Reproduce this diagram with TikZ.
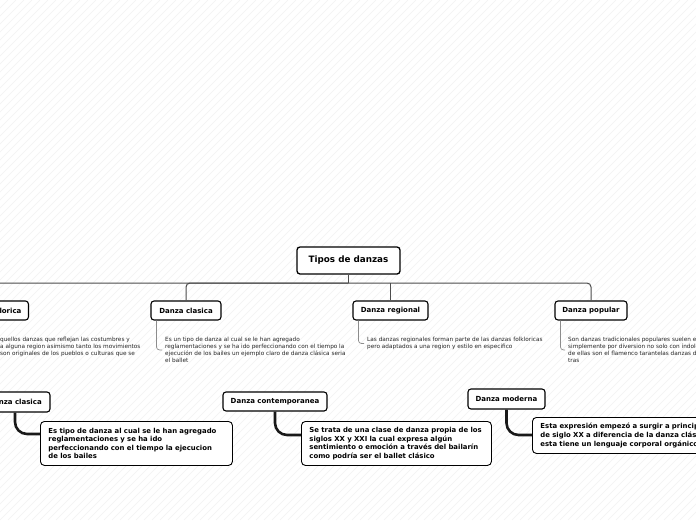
\documentclass[tikz,border=0pt]{standalone}
\usepackage{fontspec}
\setmainfont{DejaVu Sans}
\usetikzlibrary{calc}
\begin{document}
\begin{tikzpicture}[x=1pt,y=-1pt,
  topic/.style={draw=black, line width=1.1pt, rounded corners=3pt, fill=white,
    font=\bfseries\fontsize{7}{8}\selectfont, minimum height=19pt, inner xsep=7pt, inner ysep=0pt},
  bus/.style={draw=black!70, line width=1pt},
  bracket/.style={draw=black!45, line width=0.7pt, rounded corners=3pt},
  desc/.style={font=\fontsize{5.75}{7}\selectfont, align=left, inner sep=0pt, text=black!85, anchor=north west},
  note/.style={draw=black, line width=0.9pt, rounded corners=4pt, fill=white,
    font=\bfseries\fontsize{6.9}{8.6}\selectfont, align=left, anchor=north west, inner xsep=8pt, inner ysep=0pt},
  conn/.style={draw=black!90, line width=2.6pt, rounded corners=12pt}]
\useasboundingbox (0,0) rectangle (696,520);
\clip (0,0) rectangle (696,520);
\fill[white] (0,0) rectangle (696,520);
\foreach \i in {-520,-512,...,700} \draw[black!5, line width=0.4pt] (\i,520) -- (\i+520,0);

% root and first level
\node[topic, minimum width=103pt, minimum height=27pt, line width=1.3pt,
  font=\bfseries\fontsize{8.8}{10}\selectfont] (root) at (348.5,260.5) {Tipos de danzas};
\node[topic, minimum width=70pt] (clasica) at (186,310.5) {Danza clasica};
\node[topic, minimum width=75pt] (regional) at (390.5,310.5) {Danza regional};
\node[topic, minimum width=72pt] (popular) at (591,310.5) {Danza popular};
\node[topic, anchor=east] (folk) at (29,310.5) {Danza folklorica};

\coordinate (bus) at (348.5,283);
\draw[bus] (root.south) -- (bus);
\draw[bus, rounded corners=4pt] (folk.north) |- (bus);
\draw[bus, rounded corners=4pt] (bus) -| (popular.north);
\draw[bus, rounded corners=4pt] (clasica.north) |- (bus);
\draw[bus] (regional.north) -- (regional.north |- bus);

% descriptions
\node[desc] (folkD) at (0,337) {quellos danzas que reflejan las costumbres y\\a alguna region asimismo tanto los movimientos\\ son originales de los pueblos o culturas que se};
\node[desc] (clasicaD) at (165,337) {Es un tipo de danza al cual se le han agregado\\reglamentaciones y se ha ido perfeccionando con el tiempo la\\ejecución de los bailes un ejemplo claro de danza clásica seria\\el ballet};
\node[desc] (regionalD) at (367,337) {Las danzas regionales forman parte de las danzas folkloricas\\pero adaptados a una region y estilo en especifico};
\node[desc] (popularD) at (568,337) {Son danzas tradicionales populares suelen em\\simplemente por diversion no solo con índole\\de ellas son el flamenco tarantelas danzas de\\tras};

\draw[bracket] ([xshift=6pt]folk.south west) |- ([xshift=-3pt]folkD.west);
\draw[bracket] ([xshift=6pt]clasica.south west) |- ([xshift=-3pt]clasicaD.west);
\draw[bracket] ([xshift=6pt]regional.south west) |- ([xshift=-3pt]regionalD.west);
\draw[bracket] ([xshift=6pt]popular.south west) |- ([xshift=-3pt]popularD.west);

% second row
\node[topic, minimum width=70pt, minimum height=20pt] (clasica2) at (15,402) {Danza clasica};
\node[topic, minimum width=104pt] (contemp) at (275,401.5) {Danza contemporanea};
\node[topic, minimum width=77pt, minimum height=20pt] (moderna) at (506.5,399) {Danza moderna};

\node[note, text width=176pt, minimum height=44pt] (clasica2D) at (40,421)
  {Es tipo de danza al cual se le han agregado\\reglamentaciones y se ha ido\\perfeccionando con el tiempo la ejecucion\\de los bailes};
\node[note, text width=174pt, minimum height=44pt] (contempD) at (301,421)
  {Se trata de una clase de danza propia de los\\siglos XX y XXI la cual expresa algún\\sentimiento o emoción a través del bailarín\\como podría ser el ballet clásico};
\node[note, text width=200pt, minimum height=36pt] (modernaD) at (532,417)
  {Esta expresión empezó a surgir a principios\\de siglo XX a diferencia de la danza clásica\\esta tiene un lenguaje corporal orgánico};

\draw[conn] (clasica2.south) |- ($(clasica2D.north west)+(0,13)$);
\draw[conn] (contemp.south) |- ($(contempD.north west)+(0,14)$);
\draw[conn] (moderna.south) |- ($(modernaD.north west)+(0,18)$);
\end{tikzpicture}
\end{document}
